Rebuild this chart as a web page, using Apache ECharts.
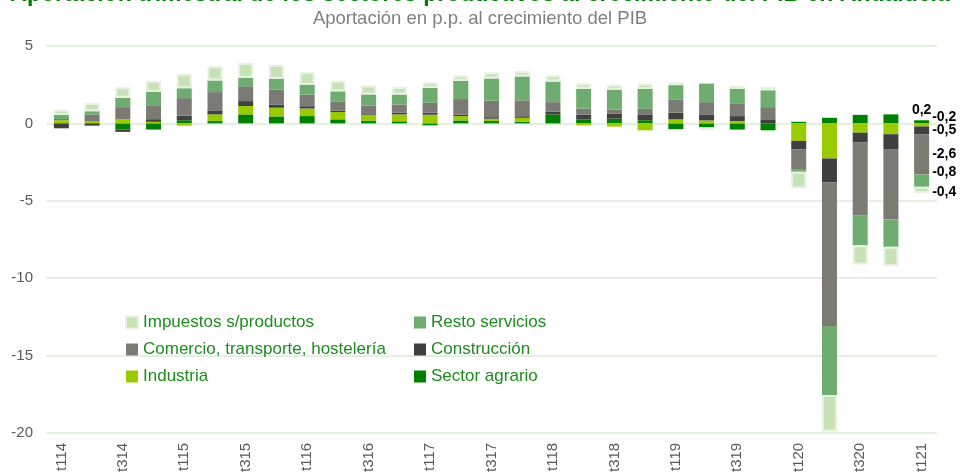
<!DOCTYPE html>
<html>
<head>
<meta charset="utf-8">
<script src="https://cdn.jsdelivr.net/npm/echarts@6/dist/echarts.min.js"></script>
<style>
  html, body { margin: 0; padding: 0; background: #fff; }
  #myChart { width: 960px; height: 475px; }
</style>
</head>
<body>
<div id="myChart"></div>
<script>
// trimestres 1T14 .. 1T21
var trimestres = ['t114', 't214', 't314', 't414', 't115', 't215', 't315', 't415',
  't116', 't216', 't316', 't416', 't117', 't217', 't317', 't417',
  't118', 't218', 't318', 't418', 't119', 't219', 't319', 't419',
  't120', 't220', 't320', 't420', 't121']

var sectorAgrario = [0, 0, -0.4, -0.4, 0.2, 0.15, 0.58, 0.45, 0.47, 0.26, 0.15, 0.13, -0.13, 0.19, 0.15, 0.1,
  0.58, 0.26, 0.3, 0.2, -0.38, -0.26, -0.4, -0.45, 0.1, 0.36, 0.55, 0.58, 0.2]
var industria = [0.2, 0.12, 0.26, 0.1, -0.15, 0.43, 0.54, 0.56, 0.49, 0.47, 0.41, 0.45, 0.56, 0.28, 0.15, 0.26,
  -0.05, -0.13, -0.21, -0.45, 0.26, 0.19, 0.15, 0, -1.13, -2.27, -0.6, -0.7, -0.2]
var construccion = [-0.32, -0.15, -0.15, 0.17, 0.3, 0.26, 0.32, 0.21, 0.15, 0.1, 0.09, 0.1, 0.13, 0.1, 0.1, 0.1,
  0.17, 0.3, 0.34, 0.38, 0.43, 0.39, 0.32, 0.26, -0.54, -1.54, -0.64, -1.0, -0.5]
var comercio = [0.08, 0.45, 0.79, 0.9, 1.13, 1.18, 0.96, 0.96, 0.75, 0.56, 0.51, 0.54, 0.64, 1.0, 1.07, 1.03,
  0.62, 0.39, 0.26, 0.36, 0.86, 0.79, 0.79, 0.79, -1.33, -9.28, -4.71, -4.5, -2.6]
var restoServicios = [0.26, 0.21, 0.6, 0.88, 0.64, 0.75, 0.54, 0.71, 0.64, 0.68, 0.71, 0.64, 0.96, 1.18, 1.43, 1.54,
  1.33, 1.28, 1.28, 1.28, 0.92, 1.2, 0.98, 1.09, -0.13, -4.47, -1.93, -1.78, -0.8]
var impuestos = [0.34, 0.53, 0.68, 0.68, 0.92, 0.92, 0.96, 0.9, 0.81, 0.68, 0.58, 0.49, 0.36, 0.34, 0.39, 0.36,
  0.39, 0.34, 0.32, 0.34, 0.19, -0.17, 0.19, 0.21, -1.07, -2.35, -1.24, -1.24, -0.4]

var ejeY = [-20, -15, -10, -5, 0, 5]

// etiqueta solo en el ultimo trimestre
function conEtiqueta(arr, pos, dy) {
  return arr.map(function (v, i) {
    if (i != arr.length - 1) return v
    return {
      value: v,
      label: {
        show: true,
        position: pos,
        distance: 3,
        offset: [0, dy],
        color: '#000',
        fontSize: 14,
        fontWeight: 'bold',
        fontFamily: 'Liberation Sans, Arial, sans-serif',
        formatter: function (p) { return String(p.value).replace('.', ',') }
      }
    }
  })
}

var myChart = echarts.init(document.getElementById('myChart'))
var fuente = 'Liberation Sans, Arial, sans-serif'

var option = {
  animation: false,
  title: [{
    text: 'Aportación trimestral de los sectores productivos al crecimiento del PIB en Andalucía',
    left: 'center',
    top: -22,
    textStyle: { fontSize: 23, fontWeight: 'bold', color: '#008000', fontFamily: fuente }
  }, {
    text: 'Aportación en p.p. al crecimiento del PIB',
    left: 'center',
    top: 4,
    textStyle: { fontSize: 18.5, fontWeight: 'normal', color: '#7f7f7f', fontFamily: fuente }
  }],
  legend: [{
    orient: 'vertical',
    left: 120,
    top: 309,
    itemWidth: 12,
    itemHeight: 12,
    itemGap: 10,
    icon: 'rect',
    selectedMode: false,
    data: ['Impuestos s/productos', 'Comercio, transporte, hostelería', 'Industria'],
    textStyle: { fontSize: 17, color: '#1e8c1e', fontFamily: fuente }
  }, {
    orient: 'vertical',
    left: 409,
    top: 309,
    itemWidth: 12,
    itemHeight: 12,
    itemGap: 10,
    icon: 'rect',
    selectedMode: false,
    data: ['Resto servicios', 'Construcción', 'Sector agrario'],
    textStyle: { fontSize: 17, color: '#1e8c1e', fontFamily: fuente }
  }],
  grid: { left: 46, right: 23, top: 46, bottom: 40 },
  xAxis: {
    type: 'category',
    data: trimestres,
    axisLine: { show: false },
    axisTick: { show: false },
    axisLabel: {
      interval: 1,
      rotate: 90,
      margin: 10,
      fontSize: 15,
      color: '#595959',
      fontFamily: fuente
    }
  },
  yAxis: {
    type: 'value',
    min: ejeY[0],
    max: ejeY[ejeY.length - 1],
    interval: 5,
    axisLine: { show: false },
    axisTick: { show: false },
    axisLabel: { fontSize: 15, color: '#595959', margin: 13, fontFamily: fuente },
    splitLine: { lineStyle: { color: '#dcebd6', width: 1.5 } }
  },
  series: [{
    name: 'Sector agrario',
    type: 'bar',
    stack: 'total',
    barWidth: 15,
    itemStyle: { color: '#008000' },
    data: conEtiqueta(sectorAgrario, 'top', 0)
  }, {
    name: 'Industria',
    type: 'bar',
    stack: 'total',
    itemStyle: { color: '#99cc00' },
    data: conEtiqueta(industria, 'right', -8)
  }, {
    name: 'Construcción',
    type: 'bar',
    stack: 'total',
    itemStyle: { color: '#404040' },
    data: conEtiqueta(construccion, 'right', 0)
  }, {
    name: 'Comercio, transporte, hostelería',
    type: 'bar',
    stack: 'total',
    itemStyle: { color: '#7b7b73' },
    data: conEtiqueta(comercio, 'right', 0)
  }, {
    name: 'Resto servicios',
    type: 'bar',
    stack: 'total',
    itemStyle: { color: '#6fac6f' },
    data: conEtiqueta(restoServicios, 'right', -8)
  }, {
    name: 'Impuestos s/productos',
    type: 'bar',
    stack: 'total',
    itemStyle: { color: '#c8e2b8', borderColor: '#e6f1df', borderWidth: 2 },
    data: conEtiqueta(impuestos, 'right', 2)
  }]
}
myChart.setOption(option)
</script>
</body>
</html>
